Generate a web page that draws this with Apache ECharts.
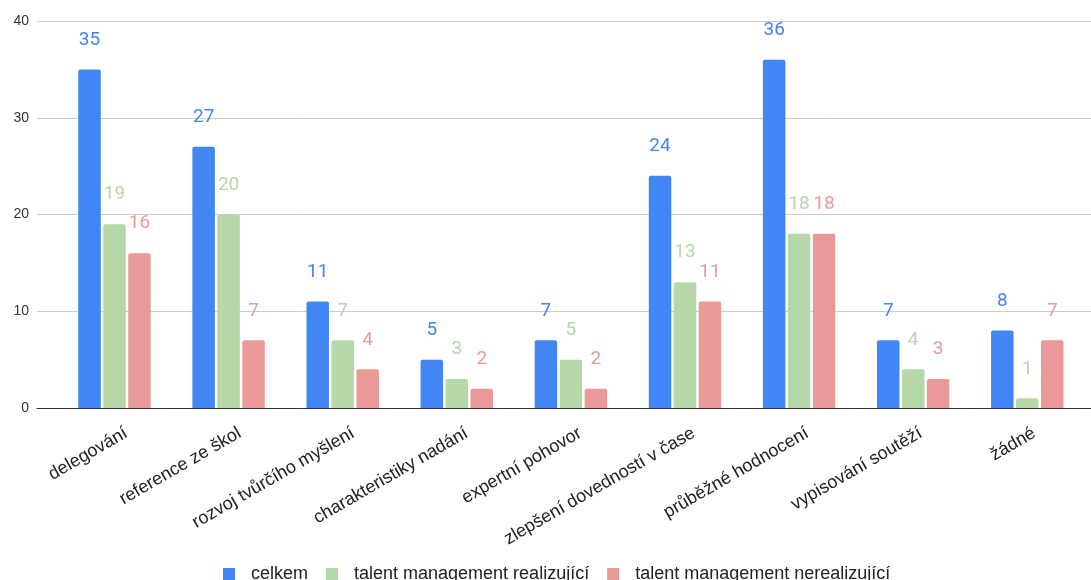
<!DOCTYPE html>
<html>
<head>
<meta charset="utf-8">
<script src="https://cdn.jsdelivr.net/npm/echarts@6/dist/echarts.min.js"></script>
<style>
  html, body { margin: 0; padding: 0; background: #fff; }
  #chart { width: 1091px; height: 580px; }
</style>
</head>
<body>
<div id="chart"></div>
<script>
// Categories and counts per group
const categories = [
  'delegování', 'reference ze škol', 'rozvoj tvůrčího myšlení',
  'charakteristiky nadání', 'expertní pohovor', 'zlepšení dovedností v čase',
  'průběžné hodnocení', 'vypisování soutěží', 'žádné'
];
const seriesNames = ['celkem', 'talent management realizující', 'talent management nerealizující'];
const celkem = [35, 27, 11, 5, 7, 24, 36, 7, 8];
const realizujici = [19, 20, 7, 3, 5, 13, 18, 4, 1];
const nerealizujici = [16, 7, 4, 2, 2, 11, 18, 3, 7];
const yTicks = [0, 10, 20, 30, 40];

const colors = ['#4285F4', '#B6D7A8', '#EA9999'];
const textFont = '"Liberation Sans", Arial, sans-serif';
const labelFont = 'Roboto, "Liberation Sans", sans-serif';

const chart = echarts.init(document.getElementById('chart'), null, { renderer: 'canvas' });

const plotTop = 21, plotBottom = 172;
const catLeft = 57.45, catWidth = 1026.9;

function barSeries(idx, data) {
  return {
    name: seriesNames[idx],
    type: 'bar',
    xAxisIndex: 1,
    yAxisIndex: 1,
    data: data,
    barWidth: 22.5,
    barGap: '11%',
    itemStyle: { color: colors[idx], borderRadius: [2, 2, 0, 0] },
    label: {
      show: true,
      position: 'top',
      distance: 20,
      color: colors[idx],
      fontFamily: labelFont,
      fontSize: 19
    }
  };
}

chart.setOption({
  animation: false,
  backgroundColor: '#fff',
  color: colors,
  legend: {
    data: seriesNames,
    left: 223,
    top: 565,
    padding: 0,
    itemWidth: 12,
    itemHeight: 12,
    itemGap: 18,
    icon: 'rect',
    textStyle: { fontFamily: textFont, fontSize: 18, color: '#222', padding: [0, 0, 0, 11] }
  },
  grid: [
    // full-width frame for gridlines and the baseline
    { left: 37, right: 0, top: plotTop, bottom: plotBottom },
    // bars
    { left: catLeft, width: catWidth, top: plotTop, bottom: plotBottom },
    // category labels, nudged right
    { left: catLeft + 12, width: catWidth, top: plotTop, bottom: plotBottom }
  ],
  xAxis: [
    {
      gridIndex: 0, type: 'value', min: 0, max: 1,
      axisLine: { show: true, lineStyle: { color: '#333', width: 1 } },
      axisTick: { show: false }, axisLabel: { show: false }, splitLine: { show: false }
    },
    {
      gridIndex: 1, type: 'category', data: categories,
      axisLine: { show: false }, axisTick: { show: false }, axisLabel: { show: false }
    },
    {
      gridIndex: 2, type: 'category', data: categories,
      axisLine: { show: false }, axisTick: { show: false },
      axisLabel: {
        rotate: 30, margin: 24, interval: 0,
        fontFamily: textFont, fontSize: 18, color: '#222'
      }
    }
  ],
  yAxis: [
    {
      gridIndex: 0, type: 'value', min: yTicks[0], max: yTicks[yTicks.length - 1], interval: 10,
      axisLine: { show: false }, axisTick: { show: false },
      axisLabel: { fontFamily: textFont, fontSize: 14, color: '#333', margin: 8 },
      splitLine: { lineStyle: { color: '#cccccc', width: 1 } }
    },
    { gridIndex: 1, type: 'value', min: 0, max: 40, show: false },
    { gridIndex: 2, type: 'value', min: 0, max: 40, show: false }
  ],
  series: [
    barSeries(0, celkem),
    barSeries(1, realizujici),
    barSeries(2, nerealizujici)
  ]
});
</script>
</body>
</html>
